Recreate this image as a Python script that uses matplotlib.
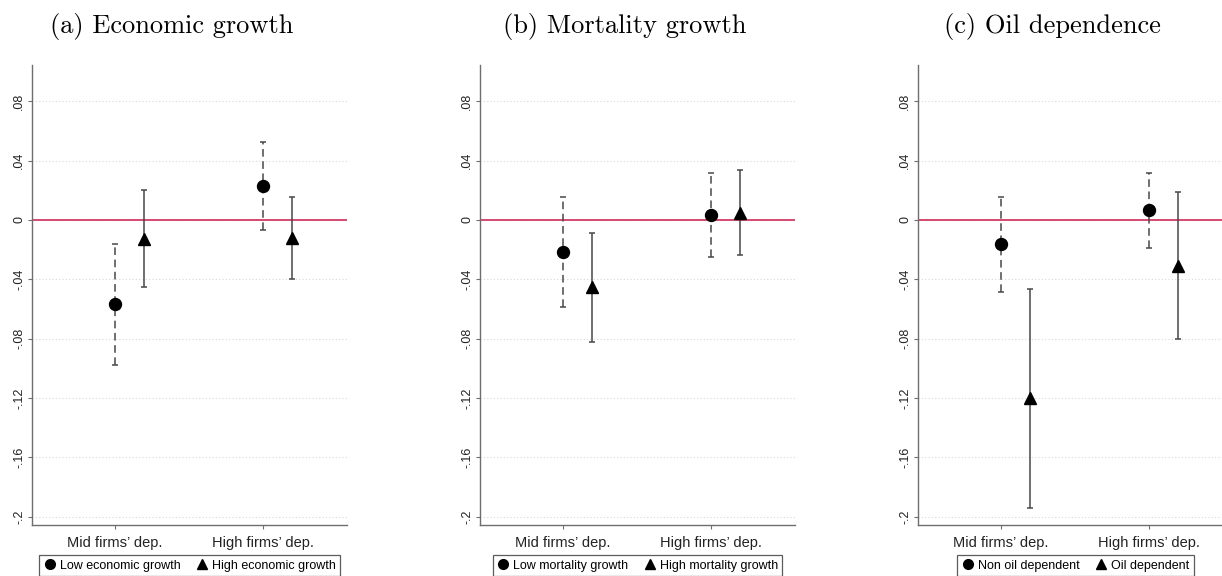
import matplotlib.pyplot as plt
from matplotlib.lines import Line2D
import numpy as np

# categories on the x axis
categories = ["Mid firms\u2019 dep.", "High firms\u2019 dep."]
yticks = [0.08, 0.04, 0, -0.04, -0.08, -0.12, -0.16, -0.2]
ytick_labels = [".08", ".04", "0", "-.04", "-.08", "-.12", "-.16", "-.2"]

titles = ["(a) Economic growth", "(b) Mortality growth", "(c) Oil dependence"]
legend_labels = [
    ["Low economic growth", "High economic growth"],
    ["Low mortality growth", "High mortality growth"],
    ["Non oil dependent", "Oil dependent"],
]

# point estimates and confidence bounds, one list per panel: [Mid, High]
circle_est = [[-0.057, 0.0229], [-0.0214, 0.0033], [-0.0165, 0.0064]]
circle_lo = [[-0.0981, -0.0069], [-0.0586, -0.0248], [-0.0487, -0.0192]]
circle_hi = [[-0.0159, 0.0527], [0.0157, 0.0314], [0.0157, 0.032]]

tri_est = [[-0.0125, -0.0124], [-0.0455, 0.005], [-0.1203, -0.0309]]
tri_lo = [[-0.0451, -0.0401], [-0.082, -0.0239], [-0.1941, -0.0806]]
tri_hi = [[0.0201, 0.0154], [-0.0091, 0.0339], [-0.0464, 0.0188]]

W, H = 1222, 576
fig = plt.figure(figsize=(W / 100, H / 100), dpi=100)

ax_left = [32, 480, 918]
title_x = [172, 625, 1052]
ax_w, ax_top, ax_bot = 315, 65, 525

line_col = "#484848"
spine_col = "#6e6e6e"
x = np.array([1.0, 2.0])

for i in range(3):
    ax = fig.add_axes([ax_left[i] / W, (H - ax_bot) / H, ax_w / W, (ax_bot - ax_top) / H])

    ax.set_ylim(-0.2057, 0.1045)
    ax.set_xlim(0.44, 2.567)
    for yv in yticks:
        ax.axhline(yv, color="#d8d8d8", lw=0.8, ls=(0, (1, 2)), zorder=0)
    ax.axhline(0, color="#d23c64", lw=1.3, zorder=1)

    # circle series, dashed CI
    c_est = np.array(circle_est[i])
    eb = ax.errorbar(x, c_est,
                     yerr=[c_est - np.array(circle_lo[i]), np.array(circle_hi[i]) - c_est],
                     fmt="o", color="black", ms=8.6, ecolor=line_col, elinewidth=1.1,
                     capsize=1.9, capthick=1.1, zorder=3)
    eb[2][0].set_linestyle((0, (5, 3)))

    # triangle series, solid CI
    t_est = np.array(tri_est[i])
    ax.errorbar(x + 0.198, t_est,
                yerr=[t_est - np.array(tri_lo[i]), np.array(tri_hi[i]) - t_est],
                fmt="^", color="black", ms=9, ecolor=line_col, elinewidth=1.1,
                capsize=1.9, capthick=1.1, zorder=3)

    ax.set_yticks(yticks)
    ax.set_yticklabels(ytick_labels, rotation=90, va="center", fontsize=9,
                       family="Liberation Sans", color="#222222")
    ax.set_xticks(x)
    ax.set_xticklabels(categories, fontsize=10.5, family="Liberation Sans", color="#222222")
    ax.tick_params(axis="both", length=3, width=0.8, color=spine_col, pad=2)
    ax.tick_params(axis="x", pad=5)

    for s in ["top", "right"]:
        ax.spines[s].set_visible(False)
    for s in ["left", "bottom"]:
        ax.spines[s].set_color(spine_col)
        ax.spines[s].set_linewidth(1.0)

    handles = [
        Line2D([], [], marker="o", ls="none", color="black", ms=7),
        Line2D([], [], marker="^", ls="none", color="black", ms=7.5),
    ]
    leg = ax.legend(handles, legend_labels[i], loc="upper center",
                    bbox_to_anchor=(0.5, -(549 - ax_bot) / (ax_bot - ax_top)),
                    ncol=2, frameon=True, fancybox=False, handletextpad=0.3,
                    columnspacing=1.2, handlelength=1.0, borderpad=0.35,
                    prop={"family": "Liberation Sans", "size": 9})
    leg.get_frame().set_edgecolor("#333333")
    leg.get_frame().set_linewidth(0.9)

    fig.text(title_x[i] / W, 1 - 27 / H, titles[i], ha="center", va="center",
             fontsize=19, family="cmr10")

fig.savefig("out.png", dpi=100)
